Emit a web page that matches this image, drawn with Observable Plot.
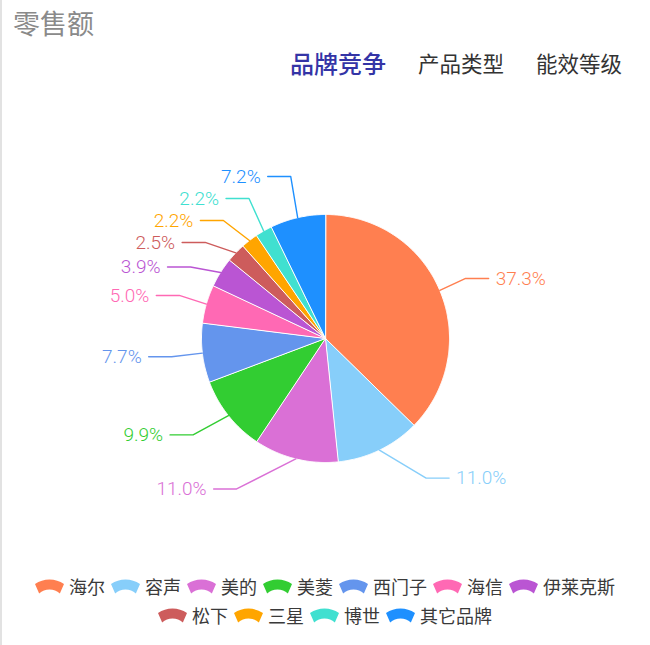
<!DOCTYPE html>
<html><head><meta charset="utf-8">
<script src="https://cdn.jsdelivr.net/npm/d3@7"></script>
<script src="https://cdn.jsdelivr.net/npm/@observablehq/plot@0.6"></script>
<style>
body{margin:0;background:#fff;}
#page{position:relative;width:650px;height:645px;overflow:hidden;background:#fff;font-family:Roboto,"Noto Sans CJK SC",sans-serif;}
#edge{position:absolute;left:0;top:0;width:2px;height:645px;background:#e2e2e2;}
#title{position:absolute;left:13px;top:5px;font-size:27px;line-height:36px;color:#8a8a8a;font-family:"Noto Sans CJK SC",sans-serif;}
#tabs{position:absolute;left:290px;top:46px;display:flex;align-items:center;height:32px;font-family:"Noto Sans CJK SC",sans-serif;}
#tabs span{font-size:21.5px;color:#333;margin-right:32px;white-space:nowrap;}
#tabs span.on{font-size:24px;color:#3434a6;font-weight:500;}
#chart{position:absolute;left:0;top:90px;}
#legend{position:absolute;left:15px;top:572px;width:620px;display:flex;flex-wrap:wrap;justify-content:center;font-family:"Noto Sans CJK SC",sans-serif;font-size:18px;color:#3a3a3a;line-height:29px;}
.item{display:flex;align-items:center;margin:0 3px;}
.item svg{margin-right:5px;}
</style>
</head><body>
<div id="page">
  <div id="edge"></div>
  <div id="title"></div>
  <div id="tabs"></div>
  <div id="chart"></div>
  <div id="legend"></div>
</div>
<script>
const title = "零售额";
const tabs = ["品牌竞争", "产品类型", "能效等级"];
const brands = ["海尔", "容声", "美的", "美菱", "西门子", "海信", "伊莱克斯", "松下", "三星", "博世", "其它品牌"];
const shares = [37.3, 11.0, 11.0, 9.9, 7.7, 5.0, 3.9, 2.5, 2.2, 2.2, 7.2];
const colors = ["#ff7f50", "#87cefa", "#da70d6", "#32cd32", "#6495ed", "#ff69b4", "#ba55d3", "#cd5c5c", "#ffa500", "#40e0d0", "#1e90ff"];

document.getElementById("title").textContent = title;
const tabsEl = document.getElementById("tabs");
tabs.forEach((t, i) => {
  const s = document.createElement("span");
  s.textContent = t;
  if (i === 0) s.className = "on";
  tabsEl.appendChild(s);
});

// geometry
const W = 650, H = 470, CX = 325, CY = 248, R0 = 124;
const LEN = 31, LEN2 = 23, DIST = 7, RL = 184, OFF = 10, LH = 22;

const total = d3.sum(shares);
let acc = 0;
const slices = brands.map((name, i) => {
  const a0 = acc / total * 2 * Math.PI;
  acc += shares[i];
  const a1 = acc / total * 2 * Math.PI;
  return {name, value: shares[i], a0, a1, mid: (a0 + a1) / 2};
});

const polyPts = slices.flatMap(s => {
  const n = Math.max(2, Math.ceil((s.a1 - s.a0) / (Math.PI / 360)));
  const pts = [{name: s.name, x: CX, y: CY}];
  for (let k = 0; k <= n; k++) {
    const a = s.a0 + (s.a1 - s.a0) * k / n;
    pts.push({name: s.name, x: CX + R0 * Math.sin(a), y: CY - R0 * Math.cos(a)});
  }
  return pts;
});

const labels = slices.map(s => {
  const dx = Math.sin(s.mid), dy = -Math.cos(s.mid);
  const dir = dx < 0 ? -1 : 1;
  const x2 = CX + (R0 + LEN) * dx, y2 = CY + (R0 + LEN) * dy;
  return {name: s.name, text: s.value.toFixed(1) + "%", dir,
    x1: CX + R0 * dx, y1: CY + R0 * dy, lx: x2 + dir * (LEN2 + DIST), ly: y2 - OFF};
});

function changeX(list, isDown, dir) {
  let last = isDown ? Infinity : 0;
  for (const d of list) {
    const dy = Math.abs(d.ly - CY);
    let dxx = dy < R0 + LEN ? Math.sqrt(RL * RL - dy * dy) : Math.abs(d.lx - CX);
    if (isDown && dxx >= last) dxx = last - 10;
    if (!isDown && dxx <= last) dxx = last + 10;
    d.lx = CX + dxx * dir;
    last = dxx;
  }
}
function adjust(list, dir) {
  list.sort((a, b) => a.ly - b.ly);
  const n = list.length;
  function shiftUp(end, delta) {
    for (let j = end; j >= 0; j--) {
      if (list[j].ly - delta < 0) break;
      list[j].ly -= delta;
      if (j > 0 && list[j].ly > list[j - 1].ly + LH) break;
    }
  }
  function shiftDown(start, end, delta) {
    for (let j = start; j < end; j++) {
      if (list[j].ly + delta > H) break;
      list[j].ly += delta;
      if (j > start && j + 1 < end && list[j + 1].ly > list[j].ly + LH) { shiftUp(j, delta / 2); return; }
    }
    shiftUp(end - 1, delta / 2);
  }
  let lastY = 0;
  for (let i = 0; i < n; i++) {
    const d = list[i].ly - lastY;
    if (d < 0) shiftDown(i, n, -d);
    lastY = list[i].ly + LH;
  }
  if (H - lastY < 0) shiftUp(n - 1, lastY - H);
  changeX(list.filter(d => d.ly < CY), false, dir);
  changeX(list.filter(d => d.ly >= CY), true, dir);
}
adjust(labels.filter(d => d.dir > 0), 1);
adjust(labels.filter(d => d.dir < 0), -1);
labels.forEach(d => { d.yc = d.ly + OFF; });

const linePts = labels.flatMap(d => {
  const x3 = d.lx - d.dir * DIST, xb = x3 - d.dir * LEN2;
  return [{name: d.name, x: d.x1, y: d.y1}, {name: d.name, x: xb, y: d.yc}, {name: d.name, x: x3, y: d.yc}];
});

const chart = Plot.plot({
  width: W, height: H, margin: 0,
  style: {fontFamily: "Roboto, 'Noto Sans CJK SC', sans-serif", background: "transparent"},
  x: {domain: [0, W], range: [0, W], axis: null},
  y: {domain: [0, H], range: [0, H], axis: null},
  color: {domain: brands, range: colors},
  marks: [
    Plot.line(polyPts, {x: "x", y: "y", z: "name", fill: "name", stroke: "#fff", strokeWidth: 1, curve: "linear-closed"}),
    Plot.line(linePts, {x: "x", y: "y", z: "name", stroke: "name", strokeWidth: 1.4}),
    Plot.text(labels.filter(d => d.dir > 0), {x: "lx", y: "yc", text: "text", fill: "name", textAnchor: "start", fontSize: 19, fontWeight: 300}),
    Plot.text(labels.filter(d => d.dir < 0), {x: "lx", y: "yc", text: "text", fill: "name", textAnchor: "end", fontSize: 19, fontWeight: 300})
  ]
});
document.getElementById("chart").appendChild(chart);

// legend
const legend = document.getElementById("legend");
brands.forEach((b, i) => {
  const it = document.createElement("div");
  it.className = "item";
  it.innerHTML = `<svg width="29" height="16" viewBox="0 0 28 15"><path d="M0,4.7 A24.5,24.5 0 0 1 28,4.7 L24,13.7 A15,15 0 0 0 4,13.7 Z" fill="${colors[i]}"/></svg><span>${b}</span>`;
  legend.appendChild(it);
});
</script>
</body></html>
